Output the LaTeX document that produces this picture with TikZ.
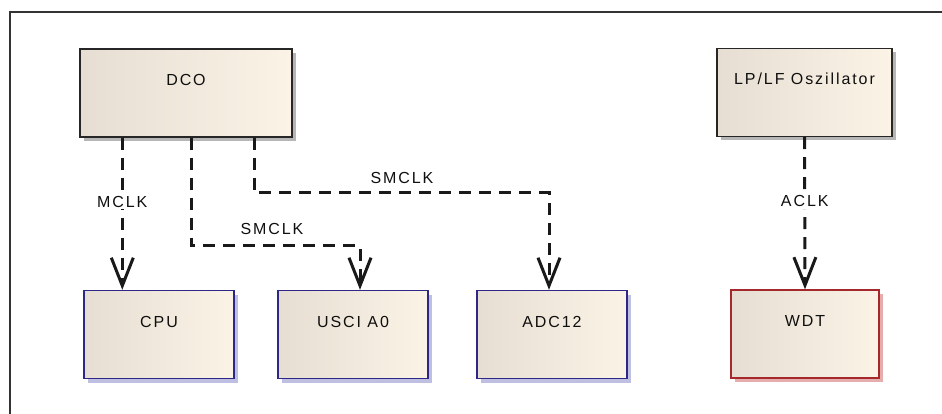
\documentclass[tikz,border=0pt]{standalone}
\usepackage{fontspec}
\setmainfont{Liberation Sans}[LetterSpace=12]
\usetikzlibrary{arrows.meta,shadows}
\definecolor{boxL}{RGB}{230,222,210}
\definecolor{boxR}{RGB}{251,243,230}
\definecolor{navy}{RGB}{45,40,135}
\definecolor{dred}{RGB}{165,40,45}
\definecolor{shgray}{RGB}{175,175,175}
\definecolor{shblue}{RGB}{185,185,222}
\definecolor{shred}{RGB}{228,165,165}
\definecolor{txt}{RGB}{15,15,15}
\tikzset{
  blk/.style={draw, line width=1.4pt, left color=boxL, right color=boxR,
    inner xsep=0pt, inner ysep=0pt, text height=36.5pt, text depth=51.5pt,
    minimum width=#1, font=\fontsize{16}{19}\selectfont, text=txt},
  osc/.style={blk=#1, draw=black!85,
    drop shadow={shadow xshift=4pt, shadow yshift=-4pt, fill=shgray, opacity=0.9}},
  unit/.style={blk=150pt, draw=navy,
    drop shadow={shadow xshift=4pt, shadow yshift=-4pt, fill=shblue, opacity=0.9}},
  wdt/.style={blk=148pt, draw=dred,
    drop shadow={shadow xshift=4pt, shadow yshift=-4pt, fill=shred, opacity=0.9}},
  conn/.style={line width=3pt, black!90, dash pattern=on 12pt off 8pt,
    -{Straight Barb[length=28pt,width=22pt,line width=3pt]}},
  lbl/.style={fill=white, inner sep=2pt, font=\fontsize{16}{19}\selectfont, text=txt},
}
\begin{document}
\begin{tikzpicture}[x=1pt,y=-1pt]
\useasboundingbox (0,0) rectangle (942,414);
\fill[white] (0,0) rectangle (942,414);
\draw[line width=1.5pt, black!80] (10,414) -- (10,12) -- (942,12);

\node[osc=212pt] (dco) at (186,93) {DCO};
\node[osc=175pt] (lp) at (804.5,92.5) {LP/LF Oszillator};
\node[unit] (cpu) at (159,334.5) {CPU};
\node[unit] (usci) at (353,334.5) {USCI A0};
\node[unit] (adc) at (552,334.5) {ADC12};
\node[wdt] (wdt) at (805,334) {WDT};

\draw[conn] ([xshift=43pt]dco.south west) -- node[lbl, pos=0.42] (l1) {MCLK} ([xshift=39pt]cpu.north west);
\draw[conn] ([xshift=112pt]dco.south west) -- ++(0,108) -| ([xshift=7pt]usci.north);
\draw[conn] ([xshift=175pt]dco.south west) -- ++(0,55) -| ([xshift=-3pt]adc.north);
\draw[conn] (lp.south) -- node[lbl, pos=0.42] (l4) {ACLK} (wdt.north);

\node[lbl, fill=none] (l2) at (272,229) {SMCLK};
\node[lbl, fill=none] (l3) at (402,177.5) {SMCLK};
\end{tikzpicture}
\end{document}
